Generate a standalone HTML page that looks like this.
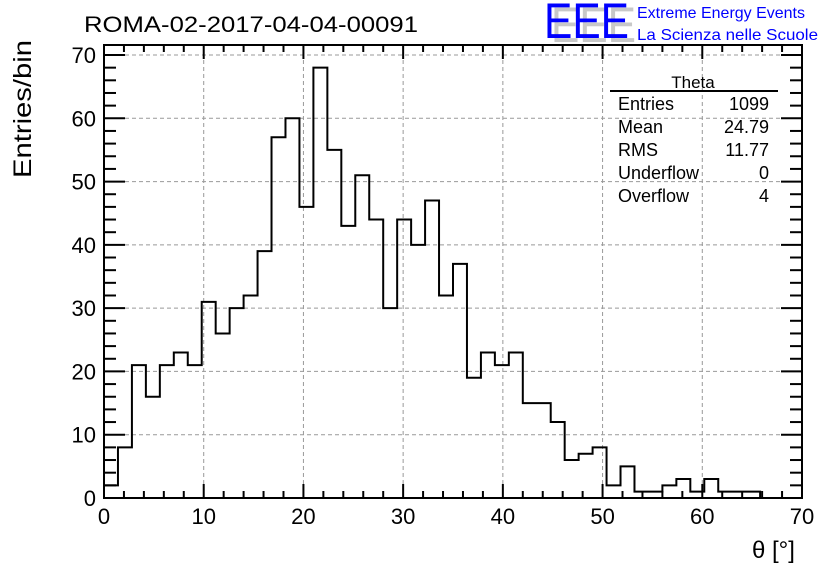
<!DOCTYPE html>
<html><head><meta charset="utf-8"><style>
body{margin:0;background:#fff;}
text{font-family:"Liberation Sans",sans-serif;}
</style></head><body>
<svg id="chart" width="836" height="572" xmlns="http://www.w3.org/2000/svg">
<rect width="836" height="572" fill="#fff"/>
<text x="84" y="32" font-size="22" textLength="334" lengthAdjust="spacingAndGlyphs">ROMA-02-2017-04-04-00091</text>
<g>
<text x="551" y="42" font-size="50" fill="#c8c8c8" textLength="85" lengthAdjust="spacingAndGlyphs">EEE</text>
<text x="544" y="38" font-size="50" fill="#0000ff" textLength="85" lengthAdjust="spacingAndGlyphs">EEE</text>
<text x="637" y="18" font-size="16" fill="#0000ff" textLength="168" lengthAdjust="spacingAndGlyphs">Extreme Energy Events</text>
<text x="637" y="40" font-size="16" fill="#0000ff" textLength="181" lengthAdjust="spacingAndGlyphs">La Scienza nelle Scuole</text>
</g>
<g id="grid"></g>
<g id="ticks"></g>
<path id="hist" fill="none" stroke="#000" stroke-width="2"/>
<rect x="104" y="45" width="698" height="453" fill="none" stroke="#000" stroke-width="2"/>
<g id="labels"></g>
<text transform="translate(31,178) rotate(-90)" font-size="25" textLength="138" lengthAdjust="spacingAndGlyphs">Entries/bin</text>
<text x="752" y="558" font-size="24">θ [°]</text>
<g font-size="18">
<text x="693" y="88" font-size="17" text-anchor="middle">Theta</text>
<line x1="610" y1="91" x2="778" y2="91" stroke="#000" stroke-width="2"/>
<text x="618" y="110">Entries</text><text x="769" y="110" text-anchor="end">1099</text>
<text x="618" y="133">Mean</text><text x="769" y="133" text-anchor="end">24.79</text>
<text x="618" y="156">RMS</text><text x="769" y="156" text-anchor="end">11.77</text>
<text x="618" y="179">Underflow</text><text x="769" y="179" text-anchor="end">0</text>
<text x="618" y="202">Overflow</text><text x="769" y="202" text-anchor="end">4</text>
</g>
</svg>
<script>
const binCounts = [2,8,21,16,21,23,21,31,26,30,32,39,57,60,46,68,55,43,51,44,30,44,40,47,32,37,19,23,21,23,15,15,12,6,7,8,2,5,1,1,2,3,1,3,1,1,1,0,0,0];
const binWidth = 1.4;
const xTicks = [0,10,20,30,40,50,60,70];
const yTicks = [0,10,20,30,40,50,60,70];
const NS="http://www.w3.org/2000/svg";
const X0=104,X1=802,Y0=498,Ytop=45;
function xs(v){return X0+(v/70)*(X1-X0);}
function ys(v){return Y0-v*(Y0-55)/70;}
function mk(tag,attrs,parent){const e=document.createElementNS(NS,tag);for(const k in attrs)e.setAttribute(k,attrs[k]);parent.appendChild(e);return e;}
const grid=document.getElementById('grid'),ticks=document.getElementById('ticks'),labels=document.getElementById('labels');
xTicks.forEach(t=>{
  if(t>0&&t<70){const l=mk('line',{x1:xs(t),x2:xs(t),y1:Y0,y2:Ytop,stroke:'#999','stroke-dasharray':'4,3','stroke-width':1},grid);
  }
  const tx=mk('text',{x:xs(t),y:524,'font-size':22,'text-anchor':'middle'},labels);tx.textContent=t;
  
});
yTicks.forEach(t=>{
  if(t>0){const l=mk('line',{x1:X0,x2:X1,y1:ys(t),y2:ys(t),stroke:'#999','stroke-dasharray':'4,3','stroke-width':1},grid);
  }
  const tx=mk('text',{x:96,y:ys(t)+8,'font-size':22,'text-anchor':'end'},labels);tx.textContent=t;
  
});
for(let v=0;v<=70;v+=2){const maj=v%10===0,L=maj?14:7;
  const a=mk('line',{x1:xs(v),x2:xs(v),y1:Y0,y2:Y0-L,stroke:'#000','stroke-width':2},ticks);
  
  const b=mk('line',{x1:xs(v),x2:xs(v),y1:Ytop,y2:Ytop+L,stroke:'#000','stroke-width':2},ticks);
  }
for(let v=0;v<=71;v+=2){const maj=v%10===0,L=maj?21:12;
  const a=mk('line',{x1:X0,x2:X0+L,y1:ys(v),y2:ys(v),stroke:'#000','stroke-width':2},ticks);
  
  const b=mk('line',{x1:X1,x2:X1-L,y1:ys(v),y2:ys(v),stroke:'#000','stroke-width':2},ticks);
  }
let d='M'+xs(0)+','+ys(0);
binCounts.forEach((c,i)=>{d+=' L'+xs(i*binWidth)+','+ys(c)+' L'+xs((i+1)*binWidth)+','+ys(c);});
d+=' L'+xs(binCounts.length*binWidth)+','+ys(0);
document.getElementById('hist').setAttribute('d',d);
</script>
</body></html>
